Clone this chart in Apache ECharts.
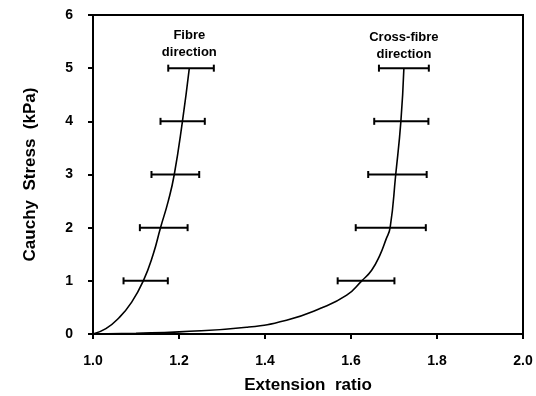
<!DOCTYPE html>
<html>
<head>
<meta charset="utf-8">
<script src="https://cdn.jsdelivr.net/npm/echarts@6/dist/echarts.min.js"></script>
<style>html,body{margin:0;padding:0;background:#fff}#c{width:536px;height:396px}</style>
</head>
<body>
<div id="c"></div>
<script>
const xTicks = [1.0, 1.2, 1.4, 1.6, 1.8, 2.0];
const yTicks = [0, 1, 2, 3, 4, 5, 6];
const fibreCurve = [[1.0,0],[1.03,0.1],[1.06,0.3],[1.09,0.6],[1.117,1],[1.14,1.5],[1.157,2],[1.175,2.5],[1.189,3],[1.208,4],[1.224,5]];
const crossCurve = [[1.0,0],[1.1,0.015],[1.2,0.04],[1.357,0.126],[1.45,0.26],[1.528,0.48],[1.59,0.73],[1.625,1],[1.648,1.2],[1.667,1.48],[1.681,1.77],[1.691,2],[1.704,3],[1.716,4],[1.723,5]];
// [stress, low, high]
const fibreErr = [[1,1.071,1.174],[2,1.109,1.220],[3,1.136,1.247],[4,1.157,1.260],[5,1.175,1.281]];
const crossErr = [[1,1.569,1.701],[2,1.611,1.774],[3,1.640,1.776],[4,1.654,1.780],[5,1.665,1.781]];
const labels = [{text:'Fibre\ndirection', x:1.224, y:5.46},{text:'Cross-fibre\ndirection', x:1.723, y:5.42}];

const font = '"Liberation Sans", Arial, sans-serif';
function errSeries(data){
  return {
    type:'custom',
    data:data,
    encode:{x:[1,2], y:0},
    renderItem:function(params, api){
      const y = api.value(0);
      const a = api.coord([api.value(1), y]);
      const b = api.coord([api.value(2), y]);
      const h = 3.5;
      const st = {stroke:'#000', lineWidth:2};
      return {type:'group', children:[
        {type:'line', shape:{x1:a[0],y1:a[1],x2:b[0],y2:b[1]}, style:st},
        {type:'line', shape:{x1:a[0],y1:a[1]-h,x2:a[0],y2:a[1]+h}, style:st},
        {type:'line', shape:{x1:b[0],y1:b[1]-h,x2:b[0],y2:b[1]+h}, style:st}
      ]};
    },
    z:5
  };
}
const chart = echarts.init(document.getElementById('c'));
chart.setOption({
  animation:false,
  backgroundColor:'#fff',
  grid:{left:93, right:13, top:15, bottom:62, containLabel:false, outerBoundsMode:'none', show:true, borderColor:'#000', borderWidth:2, backgroundColor:'transparent'},
  xAxis:{type:'value', min:1.0, max:2.0, interval:0.2,
    name:'Extension  ratio', nameLocation:'middle', nameGap:43,
    nameTextStyle:{fontFamily:font, fontWeight:'bold', fontSize:17, color:'#000'},
    axisLine:{show:true, lineStyle:{color:'#000', width:2}},
    axisTick:{show:true, length:5, lineStyle:{color:'#000', width:2}},
    axisLabel:{fontFamily:font, fontWeight:'bold', fontSize:14, color:'#000', margin:20, formatter:v=>v.toFixed(1)},
    splitLine:{show:false}},
  yAxis:{type:'value', min:0, max:6, interval:1,
    name:'Cauchy  Stress  (kPa)', nameLocation:'middle', nameGap:54,
    nameTextStyle:{fontFamily:font, fontWeight:'bold', fontSize:17, color:'#000'},
    axisLine:{show:true, lineStyle:{color:'#000', width:2}},
    axisTick:{show:true, length:5, lineStyle:{color:'#000', width:2}},
    axisLabel:{fontFamily:font, fontWeight:'bold', fontSize:14, color:'#000', margin:20},
    splitLine:{show:false}},
  series:[
    {type:'line', data:fibreCurve, smooth:true, showSymbol:false, lineStyle:{color:'#000', width:1.6}},
    {type:'line', data:crossCurve, smooth:true, showSymbol:false, lineStyle:{color:'#000', width:1.6}},
    errSeries(fibreErr),
    errSeries(crossErr),
    {type:'scatter', data:labels.map(l=>[l.x,l.y]), symbolSize:1, itemStyle:{opacity:0},
      label:{show:true, position:'inside', formatter:p=>labels[p.dataIndex].text,
        fontFamily:font, fontWeight:'bold', fontSize:13, color:'#000', opacity:1, lineHeight:17, align:'center'}}
  ]
});
</script>
</body>
</html>
